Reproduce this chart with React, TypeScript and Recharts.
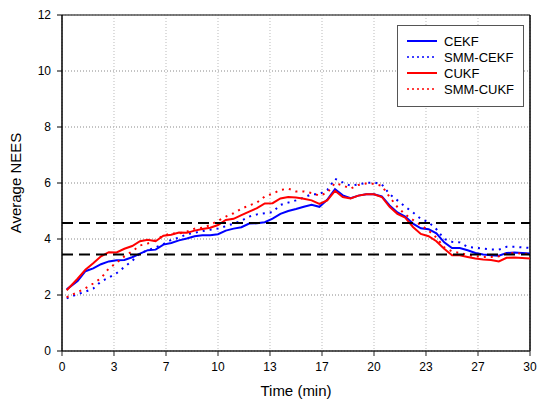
import React from 'react';
import { LineChart, Line, XAxis, YAxis, CartesianGrid, ReferenceLine, Legend, Label } from 'recharts';

// Time stamps (minutes)
const time = [
  0.3, 1, 1.5, 2, 2.5, 3, 3.5, 4, 4.5, 5,
  5.5, 6, 6.5, 7, 7.5, 8, 8.5, 9, 9.5, 10,
  10.5, 11, 11.5, 12, 12.5, 13, 13.5, 14, 14.5, 15,
  15.5, 16, 16.5, 17, 17.5, 18, 18.5, 19, 19.5, 20,
  20.5, 21, 21.5, 22, 22.5, 23, 23.5, 24, 24.5, 25,
  25.5, 26, 26.5, 27, 27.5, 28, 28.5, 29, 29.5, 30,
];

const cekf = [
  2.2, 2.5, 2.85, 2.95, 3.1, 3.2, 3.24, 3.25, 3.35, 3.48,
  3.6, 3.62, 3.8, 3.86, 3.95, 4.02, 4.1, 4.13, 4.13, 4.17,
  4.3, 4.37, 4.42, 4.55, 4.56, 4.6, 4.73, 4.9, 5.0, 5.07,
  5.15, 5.22, 5.15, 5.4, 5.78, 5.56, 5.46, 5.55, 5.6, 5.6,
  5.52, 5.2, 4.95, 4.8, 4.55, 4.38, 4.35, 4.2, 3.88, 3.68,
  3.68, 3.6, 3.5, 3.45, 3.42, 3.4, 3.5, 3.52, 3.5, 3.48,
];

const smmCekf = [
  1.88, 2.03, 2.12, 2.23, 2.48, 2.62, 2.78, 3.0, 3.22, 3.48,
  3.6, 3.7, 3.82, 3.97, 4.05, 4.17, 4.22, 4.28, 4.33, 4.37,
  4.46, 4.55, 4.65, 4.8, 4.88, 4.92, 4.96, 5.22, 5.3, 5.38,
  5.48, 5.6, 5.6, 5.75, 6.15, 6.02, 5.9, 5.95, 6.0, 6.02,
  5.95, 5.6, 5.38, 5.15, 4.95, 4.72, 4.6, 4.35, 4.0, 3.9,
  3.88, 3.72, 3.69, 3.66, 3.63, 3.62, 3.72, 3.72, 3.7, 3.68,
];

const cukf = [
  2.17, 2.58, 2.9, 3.13, 3.38, 3.53, 3.52, 3.65, 3.75, 3.92,
  3.97, 3.92, 4.12, 4.15, 4.23, 4.22, 4.3, 4.36, 4.4, 4.5,
  4.68, 4.72, 4.85, 4.98, 5.1, 5.27, 5.28, 5.45, 5.5, 5.48,
  5.44, 5.38, 5.25, 5.38, 5.72, 5.5, 5.45, 5.55, 5.6, 5.6,
  5.5, 5.15, 4.9, 4.76, 4.43, 4.18, 4.1, 3.92, 3.65, 3.42,
  3.42, 3.36, 3.3, 3.27, 3.25, 3.2, 3.33, 3.34, 3.32, 3.3,
];

const smmCukf = [
  1.92, 2.1, 2.24, 2.41, 2.6, 2.95, 3.15, 3.38, 3.56, 3.77,
  3.84, 3.96, 4.12, 4.2, 4.2, 4.26, 4.37, 4.4, 4.5, 4.65,
  4.8, 4.92, 5.08, 5.2, 5.3, 5.52, 5.62, 5.75, 5.8, 5.7,
  5.7, 5.64, 5.55, 5.65, 6.0, 5.91, 5.8, 5.93, 5.98, 5.97,
  5.9, 5.5, 5.14, 4.88, 4.68, 4.5, 4.3, 4.05, 3.7, 3.56,
  3.5, 3.43, 3.38, 3.36, 3.36, 3.38, 3.48, 3.5, 3.48, 3.46,
];

// Consistency bounds (dashed lines)
const neesBounds = [3.45, 4.57];

// X ticks are evenly spaced over 0..30, labelled with rounded minutes
const xTickValues = [0, 3.3333, 6.6667, 10, 13.3333, 16.6667, 20, 23.3333, 26.6667, 30];
const xTickLabels = ['0', '3', '7', '10', '13', '17', '20', '23', '27', '30'];
const yTickValues = [0, 2, 4, 6, 8, 10, 12];

const series = [
  { key: 'cekf', name: 'CEKF', color: '#0000ff', dash: undefined as string | undefined, width: 2 },
  { key: 'smmCekf', name: 'SMM-CEKF', color: '#0000ff', dash: '2 5', width: 2 },
  { key: 'cukf', name: 'CUKF', color: '#ff0000', dash: undefined as string | undefined, width: 2 },
  { key: 'smmCukf', name: 'SMM-CUKF', color: '#ff0000', dash: '2 5', width: 2 },
];

const data = time.map((t, i) => ({
  t,
  cekf: cekf[i],
  smmCekf: smmCekf[i],
  cukf: cukf[i],
  smmCukf: smmCukf[i],
}));

const FONT = '"Liberation Sans", Arial, sans-serif';

function LegendBox() {
  return (
    <svg width={125} height={80} style={{ display: 'block' }}>
      {series.map((s, i) => {
        const y = 15 + i * 16;
        return (
          <g key={s.key}>
            <line x1={9} x2={39} y1={y} y2={y} stroke={s.color} strokeWidth={s.dash ? 1.6 : 2} strokeDasharray={s.dash ? '2 3' : undefined} />
            <text x={46} y={y + 4.5} fontSize={13} fill="#000" fontFamily={FONT}>{s.name}</text>
          </g>
        );
      })}
    </svg>
  );
}

function YTitle(props: any) {
  const vb = props.viewBox || { x: 0, y: 15, width: 62, height: 336 };
  const cx = vb.x + 15;
  const cy = vb.y + vb.height / 2;
  return (
    <text x={cx} y={cy} transform={`rotate(-90 ${cx} ${cy})`} textAnchor="middle" dominantBaseline="central" fontSize={15} fill="#000" fontFamily={FONT}>
      Average NEES
    </text>
  );
}

export default function App() {
  return (
    <div style={{ position: 'absolute', left: 0, top: 0, background: '#fff' }}>
      <LineChart width={537} height={407} data={data} margin={{ top: 15, right: 7, bottom: 0, left: 0 }} style={{ fontFamily: FONT }}>
        <CartesianGrid horizontal vertical={false} stroke="#888" strokeDasharray="1 2" />
        <CartesianGrid horizontal={false} vertical stroke="#bbb" strokeDasharray="1 2" />
        <XAxis
          type="number"
          dataKey="t"
          domain={[0, 30]}
          ticks={xTickValues}
          tickFormatter={(_v: number, i: number) => xTickLabels[i]}
          height={56}
          tickSize={5}
          tickMargin={6}
          axisLine={{ stroke: '#222', strokeWidth: 1.5 }}
          tickLine={{ stroke: '#222' }}
          tick={{ fill: '#000', fontSize: 12, fontFamily: FONT }}
          allowDataOverflow
        >
          <Label value="Time (min)" position="insideBottom" offset={11} style={{ fontSize: 15, fill: '#000', fontFamily: FONT }} />
        </XAxis>
        <YAxis
          type="number"
          domain={[0, 12]}
          ticks={yTickValues}
          width={62}
          tickSize={5}
          tickMargin={6}
          axisLine={{ stroke: '#000', strokeWidth: 1.5 }}
          tickLine={{ stroke: '#000' }}
          tick={{ fill: '#000', fontSize: 12, fontFamily: FONT }}
        >
          <Label content={<YTitle />} />
        </YAxis>
        <ReferenceLine y={12} stroke="#555" strokeWidth={1.5} />
        <ReferenceLine x={30} stroke="#000" strokeWidth={1.5} />
        {series.map((s) => (
          <Line
            key={s.key}
            type="linear"
            dataKey={s.key}
            name={s.name}
            stroke={s.color}
            strokeWidth={s.width}
            strokeDasharray={s.dash}
            dot={false}
            activeDot={false}
            isAnimationActive={false}
          />
        ))}
        {neesBounds.map((b) => (
          <ReferenceLine key={b} y={b} stroke="#000" strokeWidth={2} strokeDasharray="11 6" />
        ))}
        <Legend
          layout="vertical"
          align="center"
          verticalAlign="middle"
          content={<LegendBox />}
          wrapperStyle={{ position: 'absolute', left: 397, top: 25, width: 127, height: 82, border: '1px solid #555', background: '#fff', boxSizing: 'border-box' }}
        />
      </LineChart>
    </div>
  );
}
